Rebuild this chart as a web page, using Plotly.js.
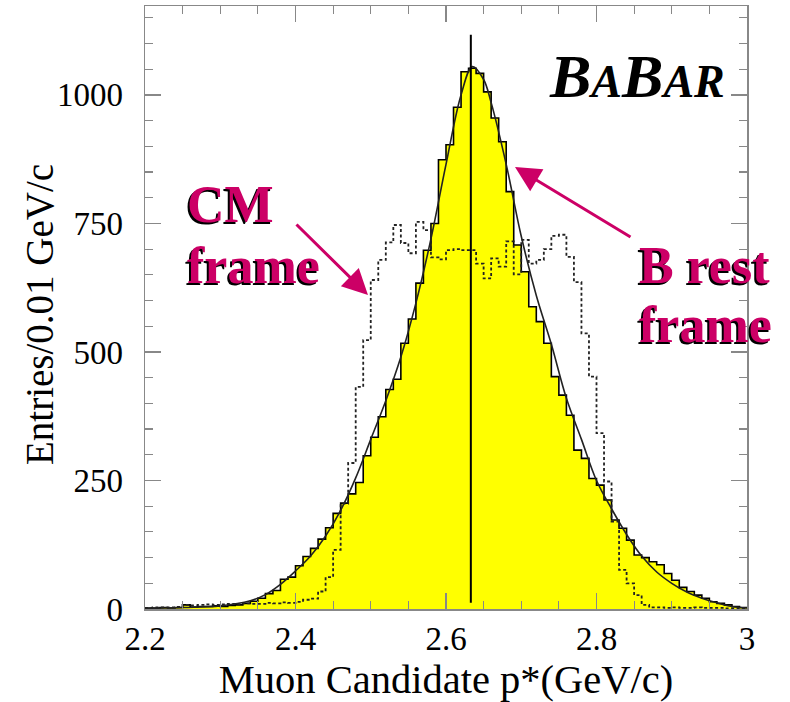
<!DOCTYPE html>
<html>
<head>
<meta charset="utf-8">
<script src="https://cdn.plot.ly/plotly-3.0.1.min.js"></script>
<style>html,body{margin:0;padding:0;background:#fff;}#chart{width:790px;height:702px;}</style>
</head>
<body>
<div id="chart"></div>
<script>
// Histogram binning: 80 bins of 0.01 GeV/c from 2.20 to 3.00
const binStart = 2.20;
const binWidth = 0.01;

// B rest frame (yellow filled histogram), entries per bin
const bRestFrame = [
  2, 2, 3, 2, 3, 8, 4, 5, 5, 6,
  5, 7, 8, 11, 15, 21, 30, 36, 58, 62,
  84, 102, 118, 136, 158, 186, 206, 224, 246, 298,
  334, 374, 427, 447, 517, 564, 634, 698, 750, 874,
  903, 976, 1045, 1052, 1042, 1006, 955, 909, 812, 708,
  656, 588, 559, 517, 452, 416, 377, 309, 293, 254,
  241, 212, 173, 157, 134, 105, 100, 92, 86, 69,
  56, 42, 34, 27, 21, 14, 11, 8, 5, 3
];

// CM frame (dotted histogram), entries per bin
const cmFrame = [
  2, 3, 3, 3, 4, 8, 7, 8, 9, 8,
  9, 10, 9, 11, 10, 10, 12, 11, 13, 12,
  14, 18, 20, 34, 62, 115, 205, 284, 432, 523,
  640, 679, 713, 747, 712, 692, 753, 737, 684, 680,
  698, 700, 698, 698, 672, 643, 682, 666, 715, 651,
  718, 672, 679, 700, 726, 728, 685, 636, 536, 452,
  342, 248, 170, 76, 50, 27, 8, 3, 3, 2,
  3, 2, 2, 3, 2, 2, 2, 1, 1, 1
];

// Fitted curve
const fitX = [2.20, 2.25, 2.30, 2.34, 2.36, 2.38, 2.40, 2.42, 2.44, 2.46, 2.48, 2.50,
  2.52, 2.54, 2.56, 2.58, 2.60, 2.62, 2.635, 2.65, 2.66, 2.68, 2.70, 2.72, 2.74,
  2.76, 2.78, 2.80, 2.82, 2.84, 2.86, 2.88, 2.90, 2.92, 2.94, 2.96, 2.98, 3.00];
const fitY = [1, 3, 6, 16, 28, 48, 74, 103, 142, 192, 255, 330,
  405, 490, 595, 720, 865, 1000, 1055, 1030, 985, 865, 725, 610, 515,
  410, 330, 250, 195, 145, 103, 72, 50, 33, 21, 12, 5, 2];

// Peak position marker
const peakLineX = [2.633, 2.633];
const peakLineY = [12, 1117];

// Axis ticks
const xTickVals = [2.2, 2.4, 2.6, 2.8, 3.0];
const xTickText = ["2.2", "2.4", "2.6", "2.8", "3"];
const yTickVals = [0, 250, 500, 750, 1000];
const yTickText = ["0", "250", "500", "750", "1000"];

function stepXY(vals) {
  const xs = [], ys = [];
  for (let i = 0; i < vals.length; i++) {
    xs.push(+(binStart + i * binWidth).toFixed(4));
    ys.push(vals[i]);
  }
  xs.push(+(binStart + vals.length * binWidth).toFixed(4));
  ys.push(vals[vals.length - 1]);
  return {xs, ys};
}

const yel = stepXY(bRestFrame);
const cm = stepXY(cmFrame);

const SERIF = '"Liberation Serif", "Times New Roman", Times, serif';
const MAG = '#cc0066';

const traces = [
  {x: yel.xs, y: yel.ys, type: 'scatter', mode: 'lines', line: {shape: 'hv', color: '#000', width: 1.6},
   fill: 'tozeroy', fillcolor: '#ffff00', hoverinfo: 'skip'},
  {x: cm.xs, y: cm.ys, type: 'scatter', mode: 'lines', line: {shape: 'hv', color: '#222', width: 1.8, dash: '3px,2.5px'},
   hoverinfo: 'skip'},
  {x: fitX, y: fitY, type: 'scatter', mode: 'lines', line: {shape: 'spline', smoothing: 1, color: '#222', width: 1.6},
   hoverinfo: 'skip'},
  {x: peakLineX, y: peakLineY, type: 'scatter', mode: 'lines', line: {color: '#000', width: 2}, hoverinfo: 'skip'}
];

function labelText(text, x, y, size) {
  return {text: text, x: x, y: y, xref: 'paper', yref: 'paper', showarrow: false, xanchor: 'left', yanchor: 'middle',
    font: {family: SERIF, size: size, color: MAG, weight: 'bold', shadow: '-2px 2px 0px #000'}};
}

const annotations = [
  labelText('CM', 0.0664, 0.670, 52),
  labelText('frame', 0.0664, 0.569, 52),
  labelText('B rest', 0.817, 0.570, 52),
  labelText('frame', 0.817, 0.471, 52),
  {text: '<b><i>B<span style="font-size:46px">A</span>B<span style="font-size:46px">AR</span></i></b>',
   x: 0.818, y: 0.884, xref: 'paper', yref: 'paper', showarrow: false, xanchor: 'center', yanchor: 'middle',
   font: {family: SERIF, size: 62, color: '#000'}},
  {text: 'Entries/0.01 GeV/c', x: -0.1744, y: 0.4876, xref: 'paper', yref: 'paper', showarrow: false,
   textangle: -90, xanchor: 'center', yanchor: 'middle', font: {family: SERIF, size: 39, color: '#000'}},
  {text: '', x: 0.3704, y: 0.5207, xref: 'paper', yref: 'paper', showarrow: true, ax: -73, ay: -72,
   arrowhead: 2, arrowsize: 1.7, arrowwidth: 3, arrowcolor: MAG, standoff: 0},
  {text: '', x: 0.6146, y: 0.733, xref: 'paper', yref: 'paper', showarrow: true, ax: 117, ay: 71,
   arrowhead: 2, arrowsize: 1.7, arrowwidth: 3, arrowcolor: MAG, standoff: 0}
];

const layout = {
  width: 790, height: 702,
  margin: {l: 145, r: 43, t: 6, b: 93},
  paper_bgcolor: '#fff', plot_bgcolor: '#fff',
  showlegend: false,
  font: {family: SERIF, color: '#000'},
  xaxis: {
    range: [2.2, 3.0], tickmode: 'array', tickvals: xTickVals, ticktext: xTickText,
    ticks: 'inside', ticklen: 16, tickwidth: 1.2, tickcolor: '#888',
    minor: {dtick: 0.05, tick0: 2.2, ticks: 'inside', ticklen: 8, tickcolor: '#888', tickwidth: 1.2},
    showline: true, linecolor: '#888', linewidth: 1.5, mirror: 'ticks',
    showgrid: false, zeroline: false,
    tickfont: {family: SERIF, size: 33, color: '#000'}, ticklabelstandoff: 0,
    title: {text: 'Muon Candidate p*(GeV/c)', font: {family: SERIF, size: 40.5, color: '#000'}, standoff: 5}
  },
  yaxis: {
    range: [0, 1173], tickmode: 'array', tickvals: yTickVals, ticktext: yTickText,
    ticks: 'inside', ticklen: 16, tickwidth: 1.2, tickcolor: '#888',
    minor: {dtick: 50, tick0: 0, ticks: 'inside', ticklen: 8, tickcolor: '#888', tickwidth: 1.2},
    showline: true, linecolor: '#888', linewidth: 1.5, mirror: 'ticks',
    showgrid: false, zeroline: false,
    tickfont: {family: SERIF, size: 33, color: '#000'}, ticklabelstandoff: 14
  },
  annotations: annotations
};

Plotly.newPlot('chart', traces, layout, {displayModeBar: false, staticPlot: true});
</script>
</body>
</html>
